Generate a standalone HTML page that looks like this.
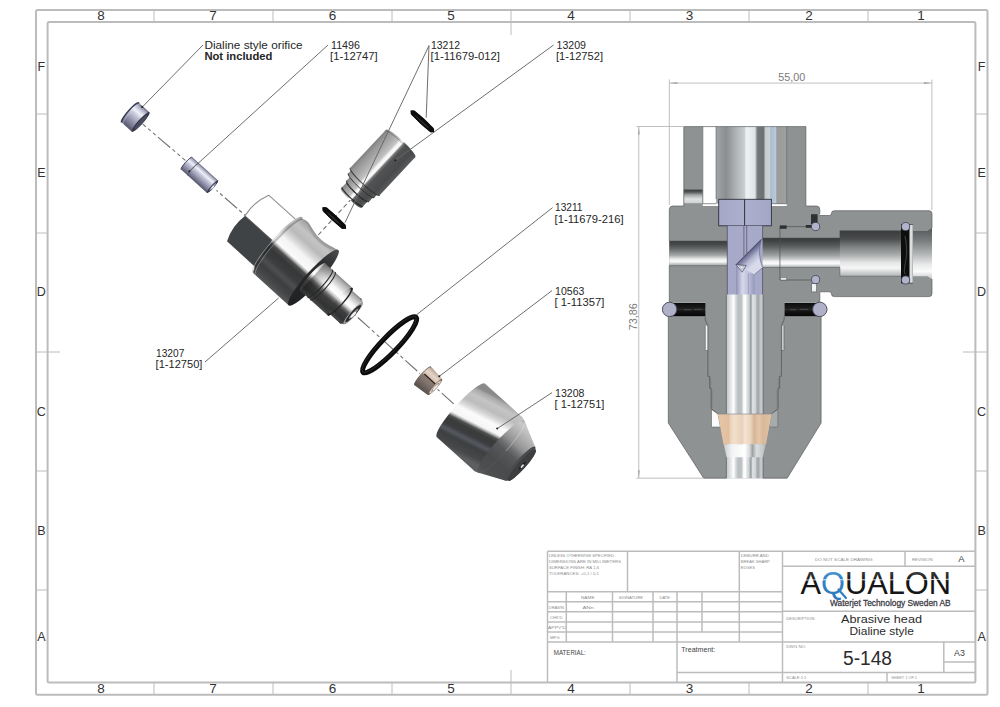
<!DOCTYPE html>
<html><head><meta charset="utf-8"><title>Abrasive head Dialine style 5-148</title>
<style>
html,body{margin:0;padding:0;background:#fff;}
body{width:1000px;height:707px;overflow:hidden;font-family:"Liberation Sans",sans-serif;}
svg{display:block;font-family:"Liberation Sans",sans-serif;}
</style></head><body>
<svg width="1000" height="707" viewBox="0 0 1000 707">
<defs>
<linearGradient id="gLogo" x1="0" y1="0" x2="0" y2="1" gradientUnits="objectBoundingBox"><stop offset="0" stop-color="#5a5a5a"/><stop offset="0.3" stop-color="#2a2a2a"/><stop offset="0.45" stop-color="#161616"/><stop offset="1" stop-color="#161616"/></linearGradient>
<linearGradient id="gLogoQ" x1="0" y1="0" x2="0" y2="1" gradientUnits="objectBoundingBox"><stop offset="0" stop-color="#6aa9dc"/><stop offset="0.35" stop-color="#3586c8"/><stop offset="1" stop-color="#2a78bc"/></linearGradient>
<linearGradient id="gTopBore" x1="0" y1="0" x2="1" y2="0" gradientUnits="objectBoundingBox"><stop offset="0" stop-color="#a2a6a8"/><stop offset="0.14" stop-color="#8a8e90"/><stop offset="0.3" stop-color="#b4b8ba"/><stop offset="0.4" stop-color="#c9cdcf"/><stop offset="0.425" stop-color="#eef2f3"/><stop offset="0.55" stop-color="#dfe5e7"/><stop offset="0.585" stop-color="#74797b"/><stop offset="0.67" stop-color="#6a6f71"/><stop offset="0.7" stop-color="#c6cacc"/><stop offset="0.755" stop-color="#cfd3d5"/><stop offset="0.775" stop-color="#a9bdd2"/><stop offset="0.845" stop-color="#b9cbdc"/><stop offset="0.86" stop-color="#9a9a98"/><stop offset="1" stop-color="#a0a09e"/></linearGradient>
<linearGradient id="gHB" x1="0" y1="0" x2="0" y2="1" gradientUnits="objectBoundingBox"><stop offset="0" stop-color="#3c3e3f"/><stop offset="0.14" stop-color="#47494a"/><stop offset="0.3" stop-color="#636667"/><stop offset="0.45" stop-color="#858889"/><stop offset="0.58" stop-color="#a5a8a9"/><stop offset="0.68" stop-color="#d2d4d4"/><stop offset="0.76" stop-color="#f3f3f3"/><stop offset="0.85" stop-color="#f7f7f7"/><stop offset="0.92" stop-color="#c6c8c9"/><stop offset="1" stop-color="#a6a9aa"/></linearGradient>
<linearGradient id="gHB2" x1="0" y1="0" x2="0" y2="1" gradientUnits="objectBoundingBox"><stop offset="0" stop-color="#38393a"/><stop offset="0.12" stop-color="#434546"/><stop offset="0.3" stop-color="#5e6162"/><stop offset="0.45" stop-color="#7f8384"/><stop offset="0.6" stop-color="#a0a3a4"/><stop offset="0.72" stop-color="#c9cbcc"/><stop offset="0.8" stop-color="#f2f2f2"/><stop offset="0.88" stop-color="#fbfbfb"/><stop offset="0.94" stop-color="#d0d2d3"/><stop offset="1" stop-color="#b0b3b4"/></linearGradient>
<linearGradient id="gTube" x1="0" y1="0" x2="1" y2="0" gradientUnits="objectBoundingBox"><stop offset="0" stop-color="#6f7679"/><stop offset="0.03" stop-color="#c9cdd0"/><stop offset="0.12" stop-color="#e4e7e8"/><stop offset="0.2" stop-color="#ffffff"/><stop offset="0.26" stop-color="#d5d9db"/><stop offset="0.33" stop-color="#b9bec1"/><stop offset="0.42" stop-color="#bfc4c6"/><stop offset="0.46" stop-color="#f4f6f6"/><stop offset="0.52" stop-color="#ffffff"/><stop offset="0.56" stop-color="#dfe2e3"/><stop offset="0.62" stop-color="#cfd3d5"/><stop offset="0.65" stop-color="#9aa0a3"/><stop offset="0.68" stop-color="#a5abad"/><stop offset="0.71" stop-color="#dcdfe0"/><stop offset="0.79" stop-color="#d5d8da"/><stop offset="0.83" stop-color="#a9adb0"/><stop offset="0.88" stop-color="#a5a9ab"/><stop offset="0.92" stop-color="#c3c6c8"/><stop offset="0.97" stop-color="#c9ccce"/><stop offset="1" stop-color="#7d8386"/></linearGradient>
<linearGradient id="gGroove" x1="0" y1="0" x2="0" y2="1" gradientUnits="objectBoundingBox"><stop offset="0" stop-color="#343637"/><stop offset="0.18" stop-color="#55585a"/><stop offset="0.4" stop-color="#a5a8a9"/><stop offset="0.7" stop-color="#e0e2e2"/><stop offset="1" stop-color="#cfd1d2"/></linearGradient>
<linearGradient id="gPurple" x1="0" y1="0" x2="1" y2="0" gradientUnits="objectBoundingBox"><stop offset="0" stop-color="#a4a7c6"/><stop offset="0.5" stop-color="#aeb1cd"/><stop offset="1" stop-color="#a2a5c4"/></linearGradient>
<linearGradient id="gPurpleCh" x1="0" y1="0" x2="1" y2="0" gradientUnits="objectBoundingBox"><stop offset="0" stop-color="#8d90b4"/><stop offset="0.35" stop-color="#d6d8ea"/><stop offset="0.7" stop-color="#b9bcd6"/><stop offset="1" stop-color="#9598ba"/></linearGradient>
<linearGradient id="gBlackBand" x1="0" y1="0" x2="0" y2="1" gradientUnits="objectBoundingBox"><stop offset="0" stop-color="#0b0b0b"/><stop offset="0.4" stop-color="#1d1d1d"/><stop offset="0.5" stop-color="#2a2a2a"/><stop offset="0.6" stop-color="#151515"/><stop offset="1" stop-color="#050505"/></linearGradient>
<linearGradient id="gPeach" x1="0" y1="0" x2="1" y2="0" gradientUnits="objectBoundingBox"><stop offset="0" stop-color="#e6c6a8"/><stop offset="0.2" stop-color="#e2bf9f"/><stop offset="0.24" stop-color="#ecd3bb"/><stop offset="0.3" stop-color="#f1dfcd"/><stop offset="0.45" stop-color="#e9d0b9"/><stop offset="0.5" stop-color="#f3e3d3"/><stop offset="0.6" stop-color="#ecd6c1"/><stop offset="0.68" stop-color="#d6b597"/><stop offset="0.76" stop-color="#e6c7aa"/><stop offset="0.84" stop-color="#d9b999"/><stop offset="1" stop-color="#e4c3a5"/></linearGradient>
<linearGradient id="gCone" x1="0" y1="0" x2="1" y2="0" gradientUnits="objectBoundingBox"><stop offset="0" stop-color="#c9cccd"/><stop offset="0.2" stop-color="#f2f3f3"/><stop offset="0.5" stop-color="#ffffff"/><stop offset="0.62" stop-color="#d5d8d9"/><stop offset="0.68" stop-color="#9ea2a4"/><stop offset="0.78" stop-color="#dcdfe0"/><stop offset="1" stop-color="#b9bcbd"/></linearGradient>
<linearGradient id="gRB" x1="0" y1="0" x2="0" y2="1" gradientUnits="objectBoundingBox"><stop offset="0" stop-color="#3a3b3c"/><stop offset="0.18" stop-color="#4a4c4d"/><stop offset="0.34" stop-color="#7b7e7f"/><stop offset="0.52" stop-color="#a6a9aa"/><stop offset="0.7" stop-color="#e4e5e5"/><stop offset="0.82" stop-color="#f6f6f6"/><stop offset="0.92" stop-color="#cfd1d1"/><stop offset="1" stop-color="#b3b5b6"/></linearGradient>
<linearGradient id="gRBend" x1="0" y1="0" x2="0" y2="1" gradientUnits="objectBoundingBox"><stop offset="0" stop-color="#55585a"/><stop offset="0.25" stop-color="#7a7d7e"/><stop offset="0.5" stop-color="#b0b3b4"/><stop offset="0.72" stop-color="#e9eaea"/><stop offset="0.85" stop-color="#fbfbfb"/><stop offset="1" stop-color="#c6c8c9"/></linearGradient>
<linearGradient id="gDiag" x1="747" y1="251" x2="757" y2="262" gradientUnits="userSpaceOnUse"><stop offset="0" stop-color="#4c4f74"/><stop offset="0.3" stop-color="#7c7fa3"/><stop offset="0.6" stop-color="#b4b7d2"/><stop offset="1" stop-color="#d8daea"/></linearGradient>
<linearGradient id="gSteel" x1="0" y1="0" x2="0" y2="1" gradientUnits="objectBoundingBox"><stop offset="0" stop-color="#8a8a8a"/><stop offset="0.04" stop-color="#aaaaaa"/><stop offset="0.12" stop-color="#c4c4c4"/><stop offset="0.22" stop-color="#bcbcbc"/><stop offset="0.3" stop-color="#d8d8d8"/><stop offset="0.37" stop-color="#fbfbfb"/><stop offset="0.48" stop-color="#f6f6f6"/><stop offset="0.51" stop-color="#b0b0b0"/><stop offset="0.54" stop-color="#505050"/><stop offset="0.585" stop-color="#3a3b3c"/><stop offset="0.67" stop-color="#3b3c3d"/><stop offset="0.735" stop-color="#565960"/><stop offset="0.8" stop-color="#3d3f40"/><stop offset="0.93" stop-color="#464849"/><stop offset="1" stop-color="#5c5e5f"/></linearGradient>
<linearGradient id="gSteelNut" x1="120" y1="-36" x2="138.3" y2="31.1" gradientUnits="userSpaceOnUse"><stop offset="0" stop-color="#8a8a8a"/><stop offset="0.04" stop-color="#aaaaaa"/><stop offset="0.12" stop-color="#c4c4c4"/><stop offset="0.22" stop-color="#bcbcbc"/><stop offset="0.3" stop-color="#d8d8d8"/><stop offset="0.37" stop-color="#fbfbfb"/><stop offset="0.48" stop-color="#f6f6f6"/><stop offset="0.51" stop-color="#b0b0b0"/><stop offset="0.54" stop-color="#505050"/><stop offset="0.585" stop-color="#3a3b3c"/><stop offset="0.67" stop-color="#3b3c3d"/><stop offset="0.735" stop-color="#565960"/><stop offset="0.8" stop-color="#3d3f40"/><stop offset="0.93" stop-color="#464849"/><stop offset="1" stop-color="#5c5e5f"/></linearGradient>
<linearGradient id="gSteelB" x1="0" y1="0" x2="0" y2="1" gradientUnits="objectBoundingBox"><stop offset="0" stop-color="#8a8a8a"/><stop offset="0.04" stop-color="#a8a8a8"/><stop offset="0.12" stop-color="#c4c4c4"/><stop offset="0.22" stop-color="#b9b9b9"/><stop offset="0.3" stop-color="#d6d6d6"/><stop offset="0.37" stop-color="#f4f4f4"/><stop offset="0.48" stop-color="#fafafa"/><stop offset="0.51" stop-color="#b0b0b0"/><stop offset="0.54" stop-color="#4c4c4c"/><stop offset="0.6" stop-color="#363738"/><stop offset="0.7" stop-color="#3c3d3e"/><stop offset="0.77" stop-color="#4c4e51"/><stop offset="0.84" stop-color="#3c3e3f"/><stop offset="0.93" stop-color="#464849"/><stop offset="1" stop-color="#58595a"/></linearGradient>
<linearGradient id="gSteel2" x1="0" y1="0" x2="0" y2="1" gradientUnits="objectBoundingBox"><stop offset="0" stop-color="#858585"/><stop offset="0.07" stop-color="#adadad"/><stop offset="0.2" stop-color="#d6d6d6"/><stop offset="0.3" stop-color="#f6f6f6"/><stop offset="0.42" stop-color="#ffffff"/><stop offset="0.5" stop-color="#c4c4c4"/><stop offset="0.57" stop-color="#6e6e6e"/><stop offset="0.66" stop-color="#3e3e3e"/><stop offset="0.86" stop-color="#323334"/><stop offset="1" stop-color="#4a4a4a"/></linearGradient>
<linearGradient id="gCone1" x1="0" y1="0" x2="0" y2="1" gradientUnits="objectBoundingBox"><stop offset="0" stop-color="#a2a2a2"/><stop offset="0.05" stop-color="#cacaca"/><stop offset="0.12" stop-color="#bebebe"/><stop offset="0.24" stop-color="#a8a8a8"/><stop offset="0.34" stop-color="#929292"/><stop offset="0.42" stop-color="#707172"/><stop offset="0.5" stop-color="#58595a"/><stop offset="0.7" stop-color="#4a4b4c"/><stop offset="0.9" stop-color="#4d4e4f"/><stop offset="1" stop-color="#5a5b5c"/></linearGradient>
<linearGradient id="gLav" x1="0" y1="0" x2="0" y2="1" gradientUnits="objectBoundingBox"><stop offset="0" stop-color="#5a5b70"/><stop offset="0.07" stop-color="#9c9eb6"/><stop offset="0.2" stop-color="#d4d5e4"/><stop offset="0.3" stop-color="#f0f0f8"/><stop offset="0.42" stop-color="#cacbdd"/><stop offset="0.6" stop-color="#a6a7be"/><stop offset="0.8" stop-color="#7e7f98"/><stop offset="1" stop-color="#55566a"/></linearGradient>
<linearGradient id="gBrass" x1="0" y1="0" x2="0" y2="1" gradientUnits="objectBoundingBox"><stop offset="0" stop-color="#a08d80"/><stop offset="0.08" stop-color="#cdb9aa"/><stop offset="0.22" stop-color="#e6d4c7"/><stop offset="0.36" stop-color="#d6c0b0"/><stop offset="0.41" stop-color="#bfa998"/><stop offset="0.44" stop-color="#8a7c74"/><stop offset="0.6" stop-color="#81746d"/><stop offset="0.8" stop-color="#6a605b"/><stop offset="1" stop-color="#554d49"/></linearGradient>
<linearGradient id="gFaceDark" x1="0" y1="0" x2="0" y2="1" gradientUnits="objectBoundingBox"><stop offset="0" stop-color="#4a4c4e"/><stop offset="0.3" stop-color="#2a2b2c"/><stop offset="1" stop-color="#202122"/></linearGradient>
<linearGradient id="g09" x1="0" y1="0" x2="0" y2="1" gradientUnits="objectBoundingBox"><stop offset="0" stop-color="#808080"/><stop offset="0.1" stop-color="#969696"/><stop offset="0.28" stop-color="#aeaeae"/><stop offset="0.4" stop-color="#c2c2c2"/><stop offset="0.455" stop-color="#f4f4f4"/><stop offset="0.52" stop-color="#fbfbfb"/><stop offset="0.56" stop-color="#7a7a7a"/><stop offset="0.62" stop-color="#525354"/><stop offset="0.85" stop-color="#484a4b"/><stop offset="1" stop-color="#5a5b5c"/></linearGradient>
<linearGradient id="gShade" x1="0" y1="0" x2="0" y2="1" gradientUnits="objectBoundingBox"><stop offset="0" stop-color="#000000"/><stop offset="1" stop-color="#000000"/></linearGradient>
<linearGradient id="gShadow" x1="0" y1="0" x2="1" y2="0"><stop offset="0" stop-color="#000" stop-opacity="0.3"/><stop offset="0.6" stop-color="#000" stop-opacity="0.12"/><stop offset="1" stop-color="#000" stop-opacity="0"/></linearGradient>
</defs>
<rect width="1000" height="707" fill="#fff"/>
<g fill="none" stroke="#bcbcbc" stroke-width="2">
<rect x="36" y="10" width="951.5" height="684.7" rx="1.5"/>
<rect x="47.6" y="22" width="927.8" height="660.4" rx="1.5"/>
</g>
<g stroke="#bcbcbc" stroke-width="1">
<line x1="154" y1="10" x2="154" y2="22"/>
<line x1="154" y1="682.4" x2="154" y2="694.7"/>
<line x1="273" y1="10" x2="273" y2="22"/>
<line x1="273" y1="682.4" x2="273" y2="694.7"/>
<line x1="392" y1="10" x2="392" y2="22"/>
<line x1="392" y1="682.4" x2="392" y2="694.7"/>
<line x1="630" y1="10" x2="630" y2="22"/>
<line x1="630" y1="682.4" x2="630" y2="694.7"/>
<line x1="749" y1="10" x2="749" y2="22"/>
<line x1="749" y1="682.4" x2="749" y2="694.7"/>
<line x1="868" y1="10" x2="868" y2="22"/>
<line x1="868" y1="682.4" x2="868" y2="694.7"/>
<line x1="511" y1="10" x2="511" y2="35"/>
<line x1="511" y1="670" x2="511" y2="694.7"/>
<line x1="36" y1="114" x2="47.6" y2="114"/>
<line x1="975.4" y1="114" x2="987.5" y2="114"/>
<line x1="36" y1="233" x2="47.6" y2="233"/>
<line x1="975.4" y1="233" x2="987.5" y2="233"/>
<line x1="36" y1="471" x2="47.6" y2="471"/>
<line x1="975.4" y1="471" x2="987.5" y2="471"/>
<line x1="36" y1="590" x2="47.6" y2="590"/>
<line x1="975.4" y1="590" x2="987.5" y2="590"/>
<line x1="36" y1="352" x2="60" y2="352"/>
<line x1="963" y1="352" x2="987.5" y2="352"/>
</g>
<g font-size="13.5" fill="#333" text-anchor="middle">
<text x="101" y="19.9">8</text>
<text x="101" y="692.9">8</text>
<text x="213" y="19.9">7</text>
<text x="213" y="692.9">7</text>
<text x="332.5" y="19.9">6</text>
<text x="332.5" y="692.9">6</text>
<text x="451" y="19.9">5</text>
<text x="451" y="692.9">5</text>
<text x="571" y="19.9">4</text>
<text x="571" y="692.9">4</text>
<text x="689.5" y="19.9">3</text>
<text x="689.5" y="692.9">3</text>
<text x="809" y="19.9">2</text>
<text x="809" y="692.9">2</text>
<text x="921" y="19.9">1</text>
<text x="921" y="692.9">1</text>
<text x="41.3" y="70.8" font-size="12.5">F</text>
<text x="981.6" y="70.8" font-size="12.5">F</text>
<text x="41.3" y="176.8" font-size="12.5">E</text>
<text x="981.6" y="176.8" font-size="12.5">E</text>
<text x="41.3" y="295.8" font-size="12.5">D</text>
<text x="981.6" y="295.8" font-size="12.5">D</text>
<text x="41.3" y="415.8" font-size="12.5">C</text>
<text x="981.6" y="415.8" font-size="12.5">C</text>
<text x="41.3" y="534.8" font-size="12.5">B</text>
<text x="981.6" y="534.8" font-size="12.5">B</text>
<text x="41.3" y="640.8" font-size="12.5">A</text>
<text x="981.6" y="640.8" font-size="12.5">A</text>
</g>
<g stroke="#bcbcbc" stroke-width="1.5" fill="none">
<line x1="547.5" y1="551.3" x2="975.4" y2="551.3"/>
<line x1="547.5" y1="551.3" x2="547.5" y2="682.4"/>
<line x1="547.5" y1="591.8" x2="782.5" y2="591.8"/>
<line x1="547.5" y1="601.8" x2="782.5" y2="601.8"/>
<line x1="547.5" y1="611.8" x2="782.5" y2="611.8"/>
<line x1="547.5" y1="622" x2="782.5" y2="622"/>
<line x1="547.5" y1="632" x2="782.5" y2="632"/>
<line x1="547.5" y1="642" x2="975.4" y2="642"/>
<line x1="677" y1="672.5" x2="975.4" y2="672.5"/>
<line x1="566.3" y1="591.8" x2="566.3" y2="642"/>
<line x1="612.5" y1="591.8" x2="612.5" y2="642"/>
<line x1="627.5" y1="551.3" x2="627.5" y2="591.8"/>
<line x1="653" y1="591.8" x2="653" y2="642"/>
<line x1="677" y1="591.8" x2="677" y2="682.4"/>
<line x1="702" y1="591.8" x2="702" y2="632"/>
<line x1="739.3" y1="551.3" x2="739.3" y2="642"/>
<line x1="782.5" y1="551.3" x2="782.5" y2="682.4"/>
<line x1="782.5" y1="566.3" x2="975.4" y2="566.3"/>
<line x1="782.5" y1="611.3" x2="975.4" y2="611.3"/>
<line x1="943.8" y1="662" x2="975.4" y2="662"/>
<line x1="905" y1="551.3" x2="905" y2="566.3"/>
<line x1="943.8" y1="642" x2="943.8" y2="672.5"/>
<line x1="887" y1="672.5" x2="887" y2="682.4"/>
</g>
<g font-size="4.4" fill="#8c8c8c">
<text x="549" y="557.3" textLength="66" lengthAdjust="spacingAndGlyphs">UNLESS OTHERWISE SPECIFIED:</text>
<text x="549" y="563.3" textLength="72" lengthAdjust="spacingAndGlyphs">DIMENSIONS ARE IN MILLIMETERS</text>
<text x="549" y="569.3" textLength="50" lengthAdjust="spacingAndGlyphs">SURFACE FINISH: RA 1,6</text>
<text x="549" y="575.3" textLength="50" lengthAdjust="spacingAndGlyphs">TOLERANCES: +0,1 / 0,1</text>
<text x="740.8" y="557.3" textLength="28" lengthAdjust="spacingAndGlyphs">DEBURR AND</text>
<text x="740.8" y="563.3" textLength="29" lengthAdjust="spacingAndGlyphs">BREAK SHARP</text>
<text x="740.8" y="569.3" textLength="14" lengthAdjust="spacingAndGlyphs">EDGES</text>
<text x="581" y="599.2" textLength="13.5" lengthAdjust="spacingAndGlyphs">NAME</text>
<text x="618.8" y="599.2" textLength="24.2" lengthAdjust="spacingAndGlyphs">SIGNATURE</text>
<text x="659.5" y="599.2" textLength="10.5" lengthAdjust="spacingAndGlyphs">DATE</text>
<text x="548.8" y="609.1" textLength="15" lengthAdjust="spacingAndGlyphs">DRAWN</text>
<text x="582.5" y="609.1" textLength="11.3" lengthAdjust="spacingAndGlyphs">ANn</text>
<text x="550" y="619.2" textLength="12.5" lengthAdjust="spacingAndGlyphs">CHK'D</text>
<text x="548" y="629.3" textLength="17.8" lengthAdjust="spacingAndGlyphs">APPV'D</text>
<text x="550" y="639.4" textLength="9.5" lengthAdjust="spacingAndGlyphs">MFG</text>
<text x="815" y="561" textLength="57.5" lengthAdjust="spacingAndGlyphs">DO NOT SCALE DRAWING</text>
<text x="912" y="561" textLength="20.5" lengthAdjust="spacingAndGlyphs">REVISION</text>
<text x="786.3" y="619.6" textLength="29" lengthAdjust="spacingAndGlyphs">DESCRIPTION:</text>
<text x="786.3" y="648.4" textLength="20" lengthAdjust="spacingAndGlyphs">DWG NO.</text>
<text x="786.3" y="679.2" textLength="20" lengthAdjust="spacingAndGlyphs">SCALE:1:1</text>
<text x="891.3" y="679.2" textLength="25.7" lengthAdjust="spacingAndGlyphs">SHEET 1 OF 1</text>
</g>
<g fill="#444">
<text x="553.8" y="654.6" font-size="7.3" textLength="32" lengthAdjust="spacingAndGlyphs">MATERIAL:</text>
<text x="681.3" y="652.4" font-size="7.3" textLength="34" lengthAdjust="spacingAndGlyphs">Treatment:</text>
<text x="961.3" y="562.4" font-size="9.5" text-anchor="middle">A</text>
<text x="959.5" y="655.6" font-size="8.8" text-anchor="middle">A3</text>
</g>
<g fill="#2b2b2b">
<text x="841" y="623.3" font-size="10.9" textLength="81" lengthAdjust="spacingAndGlyphs">Abrasive head</text>
<text x="849.5" y="634.9" font-size="10.9" textLength="64.3" lengthAdjust="spacingAndGlyphs">Dialine style</text>
<text x="843" y="665" font-size="20" textLength="49" lengthAdjust="spacingAndGlyphs">5-148</text>
</g>
<text x="800.6" y="593.9" font-size="31.7" textLength="150.4" lengthAdjust="spacingAndGlyphs" fill="url(#gLogo)">A<tspan fill="url(#gLogoQ)">Q</tspan>UALON</text>
<path d="M838.5 589.5L846 598" stroke="#2f7fc2" stroke-width="2.2" stroke-linecap="round"/>
<path d="M800 580.3C830 579 870 580.6 952 579.2" stroke="#ffffff" stroke-width="0.9" fill="none" opacity="0.9"/>
<text x="830" y="605.5" font-size="8.5" font-weight="400" fill="#3c3c46" stroke="#3c3c46" stroke-width="0.28" textLength="120.7" lengthAdjust="spacingAndGlyphs">Waterjet Technology Sweden AB</text>
<g id="section">
<g stroke="#b9b9b9" stroke-width="0.9" fill="none">
<line x1="669.3" y1="79.5" x2="669.3" y2="205"/>
<line x1="931.9" y1="79.5" x2="931.9" y2="210"/>
<line x1="669.3" y1="83.1" x2="931.9" y2="83.1"/>
<line x1="638.8" y1="126.5" x2="638.8" y2="478.2"/>
<line x1="636.5" y1="126.5" x2="683" y2="126.5"/>
<line x1="636.5" y1="478.2" x2="703" y2="478.2"/>
</g>
<g fill="#a8a8a8"><path d="M669.3 83.1l8-1v2z"/><path d="M931.9 83.1l-8-1v2z"/><path d="M638.8 126.5l-1 8h2z"/><path d="M638.8 478.2l-1-8h2z"/></g>
<text x="778.3" y="81" font-size="11.2" fill="#7b7b7b" textLength="27" lengthAdjust="spacingAndGlyphs">55,00</text>
<text transform="translate(637,330.3) rotate(-90)" font-size="11.2" fill="#7b7b7b" textLength="27" lengthAdjust="spacingAndGlyphs">73,86</text>
<path d="M668.3 316.4V423L703.7 478.2H787.2L821.1 423V316.4Z" fill="#8e9293"/>
<rect x="683.8" y="126.5" width="19" height="80" fill="#8e9293"/>
<rect x="786.7" y="126.5" width="19.2" height="80" fill="#8e9293"/>
<path d="M669.3 209.5Q669.3 206 672.8 206H816.4Q819.8 206 819.8 209.5V302.6H669.3Z" fill="#8e9293"/>
<rect x="705.7" y="300" width="78.7" height="20" fill="#8e9293"/>
<rect x="683.8" y="189.6" width="19" height="13.6" fill="url(#gGroove)"/>
<rect x="702.8" y="126.5" width="13.4" height="77.2" fill="#fff"/>
<rect x="716.1" y="126.5" width="70.6" height="77.2" fill="url(#gTopBore)"/>
<path d="M817.8 215.5H829.5Q831.4 215.5 831.4 213.6Q831.4 210.7 834.4 210.7H929Q932 210.7 932 213.7V293.6Q932 296.6 929 296.6H834.4Q831.4 296.6 831.4 293.7Q831.4 291.8 829.5 291.8H817.8Z" fill="#8e9293"/>
<rect x="669.3" y="241" width="58.7" height="24.7" fill="url(#gHB)"/>
<rect x="762" y="238" width="78" height="29.4" fill="url(#gHB2)"/>
<rect x="839.9" y="230.7" width="61.2" height="45.5" fill="url(#gRB)"/>
<path d="M912.8 231H927.3L932 228V279L927.3 276.2H912.8Z" fill="url(#gRBend)"/>
<path d="M839.9 238V230.7H901M839.9 267.4V276.2H901M762.6 238H839.9M762.6 267.4H839.9M669.3 241H727.3M669.3 265.7H727.3" fill="none" stroke="#4c5052" stroke-width="0.5"/>
<line x1="683.8" y1="126.6" x2="805.9" y2="126.6" stroke="#6d7173" stroke-width="0.8"/>
<path d="M812 226.6H779.9V280H812" fill="none" stroke="#4c5052" stroke-width="0.7"/>
<rect x="779.9" y="225.4" width="6.8" height="3.4" fill="#2d2f30"/>
<rect x="805.8" y="225" width="6.4" height="2.8" fill="#2d2f30"/>
<rect x="780.5" y="277.6" width="6" height="2.4" fill="#e9eaea" stroke="#55595b" stroke-width="0.4"/>
<rect x="811" y="214.2" width="6.6" height="9.8" fill="#2f3132"/>
<rect x="811.7" y="283.4" width="5" height="8.5" fill="#f3f3f3" stroke="#55595b" stroke-width="0.6"/>
<circle cx="815.6" cy="226.5" r="4.1" fill="#b1b4cb" stroke="#3d4050" stroke-width="0.8"/>
<circle cx="815.6" cy="279.6" r="4.1" fill="#b1b4cb" stroke="#3d4050" stroke-width="0.8"/>
<rect x="901" y="224" width="11.8" height="59.3" fill="#0d0d0d"/>
<rect x="909.5" y="224.6" width="3.3" height="58.2" fill="#dcdedf"/>
<path d="M905 236Q908 250 905.5 262T906 274" stroke="#3a3a3a" stroke-width="1.2" fill="none"/>
<circle cx="905.6" cy="226.6" r="4.1" fill="#b1b4cb" stroke="#3d4050" stroke-width="0.8"/>
<circle cx="905.6" cy="280" r="4.1" fill="#b1b4cb" stroke="#3d4050" stroke-width="0.8"/>
<g fill="none" stroke="#53575a" stroke-width="0.65">
<path d="M683.8 206V126.5M805.9 126.5V206H816.4Q819.8 206 819.8 209.5V214M683.8 206H672.8Q669.3 206 669.3 209.5V241M669.3 265.7V302"/>
<path d="M702.8 126.5V203.7H716.1M786.7 126.5V203.7H771.4M716.1 126.5V199.3"/>
<path d="M668.3 316.6V423L703.7 478.2H726.3M763.1 478.2H787.2L821.1 423V316.6M819.8 292V302"/>
<path d="M819.6 215.5H829.5Q831.4 215.5 831.4 213.6Q831.4 210.7 834.4 210.7H929Q932 210.7 932 213.7V228M932 279V293.6Q932 296.6 929 296.6H834.4Q831.4 296.6 831.4 293.7Q831.4 291.8 829.5 291.8H819.8"/>
<path d="M726.3 295.2V478.2M763.1 295.2V478.2"/>
</g>
<rect x="718.7" y="199.3" width="52.7" height="26.5" fill="url(#gPurple)" stroke="#2f3140" stroke-width="0.9"/>
<line x1="744.6" y1="199.3" x2="744.6" y2="225.8" stroke="#2f3140" stroke-width="1"/>
<rect x="727.3" y="225.8" width="35.3" height="69.4" fill="#a6a9c7"/>
<path d="M727.3 225.8V295.2M762.6 225.8V239.5M762.6 267.6V295.2" stroke="#4f526c" stroke-width="0.8" fill="none"/>
<path d="M743.9 225.8V256.5M746.7 225.8V253.6" stroke="#3f425a" stroke-width="0.6" fill="none"/>
<rect x="736" y="266" width="18.6" height="29.2" fill="url(#gPurpleCh)"/>
<path d="M748.4 274V295.2" stroke="#8487a8" stroke-width="0.5"/>
<path d="M761.4 239.3L736 264.7L754.6 274.4L762.6 267.6Q757 254 761.4 239.3Z" fill="url(#gDiag)"/>
<path d="M761.4 239.3L736 264.7" stroke="#33364e" stroke-width="0.8"/>
<path d="M761.4 239.3Q757 254 762.6 267.6L754.6 274.4" stroke="#5d6080" stroke-width="0.6" fill="none"/>
<path d="M736 264.7L746.2 265.4L742.2 272.2Z" fill="#d9dbea" stroke="#33364e" stroke-width="0.6"/>
<path d="M739.5 266L744 266.3L742 269.6Z" fill="#f4f4fa" stroke="#50536e" stroke-width="0.3"/>
<rect x="726.3" y="294.5" width="36.8" height="183.7" fill="url(#gTube)"/>
<rect x="670.5" y="302.8" width="35.1" height="13.6" fill="url(#gBlackBand)"/>
<rect x="784.4" y="302.8" width="34.6" height="13.6" fill="url(#gBlackBand)"/>
<path d="M684 309.6h7M694 309.4h8M790 309.6h6M800 309.4h8" stroke="#4a4a4a" stroke-width="1.4" opacity="0.8"/>
<circle cx="669.6" cy="309.4" r="7.2" fill="#aeb1c8" stroke="#3f4252" stroke-width="0.9"/>
<circle cx="819.8" cy="309.4" r="7.2" fill="#aeb1c8" stroke="#3f4252" stroke-width="0.9"/>
<rect x="705.3" y="325.7" width="2.5" height="24.8" fill="#f6f6f6"/>
<rect x="781.6" y="325.7" width="2.4" height="24.8" fill="#c9cccd"/>
<path d="M705.1 316.5L705.3 320L707.9 325.7V376.3H709.7V388.2H711.2V408.5L718 414" fill="none" stroke="#4c5052" stroke-width="0.7"/>
<path d="M784.2 316.5L784 320L781.4 325.7V376.3H779.6V388.2H778.1V408.5L771.3 414" fill="none" stroke="#4c5052" stroke-width="0.7"/>
<path d="M705.3 325.7V350.5H707.9M784 325.7V350.5H781.4" fill="none" stroke="#4c5052" stroke-width="0.5"/>
<path d="M710.6 378V388M712.2 390V407M778.7 378V388M777.1 390V407" fill="none" stroke="#6a6e70" stroke-width="0.4"/>
<path d="M711.5 409.5L718 414L720.4 427H711.5Z" fill="#fbfbfb" stroke="#4c5052" stroke-width="0.5"/>
<path d="M771.3 414L777.8 409.5V427H768.9Z" fill="#a7abac" stroke="#4c5052" stroke-width="0.4"/>
<path d="M717.8 414H771.6L766 444.3H723.5Z" fill="url(#gPeach)"/>
<path d="M717.8 414H771.6" stroke="#7f8486" stroke-width="0.6"/>
<path d="M723.5 444.3H766L763.1 457.2H726.3Z" fill="url(#gCone)"/>
<path d="M723.5 444.3L726.3 457.2M766 444.3L763.1 457.2" stroke="#8c9092" stroke-width="0.6"/>
</g>
<g id="exploded">
<g stroke="#727272" stroke-width="1.1" fill="none">
<path d="M142.8 124.2L185.3 160.4" stroke-dasharray="16 3 3.5 3 3.5 3" stroke-dashoffset="12.09"/>
<path d="M216.5 190.4L245.4 215.6" stroke-dasharray="16 3 3.5 3 3.5 3" stroke-dashoffset="20.83"/>
<path d="M355 315L420 373.5" stroke-dasharray="16 3 3.5 3 3.5 3" stroke-dashoffset="28.28"/>
<path d="M437.5 389.3L458 407.7" stroke-dasharray="16 3 3.5 3 3.5 3" stroke-dashoffset="26.23"/>
<path d="M318.3 235L350.5 199.8" stroke-dasharray="4.5 3"/>
</g>
<g transform="translate(390,346.5) rotate(42)">
<path d="M-349.5 -13.1L-335.6 -13.1A2.49 13.1 0 0 1 -335.6 13.1L-349.5 13.1A2.49 13.1 0 0 1 -349.5 -13.1Z" fill="url(#gLav)"/>
<path d="M-349.5 -13.1A2.49 13.1 0 0 0 -349.5 13.1" fill="none" stroke="#34354a" stroke-width="1.3"/>
<path d="M-347.2 -13.1A2.49 13.1 0 0 0 -347.2 13.1" fill="none" stroke="#e6e7f2" stroke-width="0.5" opacity="0.7"/>
<ellipse cx="-335.6" cy="0" rx="2.49" ry="13.1" fill="#353648"/>
<ellipse cx="-335.2" cy="0" rx="1.80" ry="9.5" fill="#4b4c60"/>
</g>
<g transform="translate(390,346.5) rotate(42)">
<path d="M-273.6 -8.3L-238.8 -8.3A1.58 8.3 0 0 1 -238.8 8.3L-273.6 8.3A1.58 8.3 0 0 1 -273.6 -8.3Z" fill="url(#gLav)"/>
<path d="M-273.6 -8.3A1.58 8.3 0 0 0 -273.6 8.3" fill="none" stroke="#3c3d52" stroke-width="0.9"/>
<path d="M-264.5 -8.3A1.58 8.3 0 0 0 -264.5 8.3" fill="none" stroke="#55566e" stroke-width="0.8"/>
<ellipse cx="-238.8" cy="0" rx="1.58" ry="8.3" fill="#34354a"/>
<ellipse cx="-238.6" cy="0" rx="0.95" ry="5" fill="#8f91aa"/>
<ellipse cx="-238.3" cy="0.3" rx="0.8" ry="2.2" fill="#ececf4"/>
</g>
<g transform="translate(390,346.5) rotate(42)">
<path d="M-195.2 0Q-198.2 -16 -191.4 -31.3L-150 -31.3L-150 0Z" fill="#ffffff" stroke="#909090" stroke-width="1.1" stroke-linejoin="round"/>
<path d="M-195.2 0Q-198.4 16 -191.6 30.8L-150 31.2L-150 0Z" fill="#3f4345"/>
<path d="M-195.2 0H-157" stroke="#5a5d5f" stroke-width="0.5"/>
<path d="M-151 -36.4Q-148 -37.8 -144 -37.6C-136 -35.5 -130 -33.2 -122.5 -33.2C-115 -33.2 -110 -35.6 -103 -36.6A7.03 37 0 0 1 -103 37.2L-149.5 37Q-152 37 -152.6 33A7.03 35 0 0 1 -151 -37Z" fill="url(#gSteelB)"/>
<path d="M-151 -37A7.03 37 0 0 0 -151 37" fill="none" stroke="#b9bbbc" stroke-width="0.7" opacity="0.8"/>
<path d="M-144 -37.6C-136 -35.5 -130 -33.2 -122.5 -33.2C-115 -33.2 -110 -35.6 -103 -36.6C-110 -29 -134 -27 -144 -37.6Z" fill="#8a8a8a" opacity="0.5"/>
<path d="M-151 -36.4A7.03 37 0 0 0 -151 37L-147.6 37A7.03 37 0 0 1 -147.6 -37.4Z" fill="#000" opacity="0.22"/>
<path d="M-147.6 -37.4A7.03 37 0 0 0 -147.6 37" fill="none" stroke="#e6e6e6" stroke-width="0.5" opacity="0.7"/>
<path d="M-106.5 -36.2A7.03 37 0 0 1 -99.6 0L-96 0A7.03 37 0 0 0 -103 -36.6Z" fill="#fff" opacity="0.28"/>
<ellipse cx="-103" cy="0" rx="7.07" ry="37.2" fill="url(#gFaceDark)"/>
<path d="M-104 -18.5L-67 -18.5A3.52 18.5 0 0 1 -67 18.5L-104 18.5A3.52 18.5 0 0 1 -104 -18.5Z" fill="url(#gSteel2)"/>
<path d="M-94.2 -18.5A3.52 18.5 0 0 1 -94.2 18.5M-90.4 -18.5A3.52 18.5 0 0 1 -90.4 18.5" fill="none" stroke="#2a2a2a" stroke-width="1.1"/>
<path d="M-104 -18.5L-91 -18.5A3.52 18.5 0 0 1 -91 18.5L-104 18.5Z" fill="url(#gShadow)"/>
<ellipse cx="-67" cy="0" rx="3.52" ry="18.5" fill="#262728"/>
<path d="M-68 -16.2L-52.5 -16.2A3.08 16.2 0 0 1 -52.5 16.2L-68 16.2A3.08 16.2 0 0 1 -68 -16.2Z" fill="url(#gSteel2)"/>
<path d="M-67.3 -16.6A3.15 16.6 0 0 1 -67.3 16.6" fill="none" stroke="#242526" stroke-width="1.3"/>
<path d="M-54 -16.2A3.08 16.2 0 0 1 -54 16.2" fill="none" stroke="#3a3a3a" stroke-width="0.8"/>
<path d="M-52.5 -16.2L-49.6 -14.4A2.74 14.4 0 0 1 -49.6 14.4L-52.5 16.2A3.08 16.2 0 0 1 -52.5 -16.2Z" fill="url(#gSteel2)"/>
<ellipse cx="-49.6" cy="0" rx="2.74" ry="14.4" fill="#9a9c9e"/>
<ellipse cx="-49.4" cy="0" rx="2.20" ry="11.6" fill="#2a2b2c"/>
<ellipse cx="-48.9" cy="0" rx="1.33" ry="7" fill="#8f9192"/>
<ellipse cx="-48.5" cy="1" rx="1.2" ry="3.8" fill="#f4f4f4"/>
</g>
<g transform="translate(389.6,344.8) rotate(43.9)">
<ellipse cx="0" cy="0" rx="8" ry="38.2" fill="none" stroke="#0c0c0c" stroke-width="5"/>
<ellipse cx="-0.7" cy="0" rx="8" ry="38.2" fill="none" stroke="#3b3b3b" stroke-width="0.8" opacity="0.7"/>
</g>
<g transform="translate(390,346.5) rotate(42)">
<path d="M44.1 -12.3L60.5 -10.7A2.03 10.7 0 0 1 60.5 10.7L44.1 12.3A2.34 12.3 0 0 1 44.1 -12.3Z" fill="url(#gBrass)"/>
<path d="M44.1 -12.3A2.34 12.3 0 0 0 44.1 12.3" fill="none" stroke="#5e534d" stroke-width="0.8"/>
<ellipse cx="60.5" cy="0" rx="2.03" ry="10.7" fill="#6a5f59"/>
<ellipse cx="60.7" cy="0" rx="1.63" ry="8.6" fill="#dccbbe"/>
<ellipse cx="60.9" cy="0" rx="1.06" ry="5.6" fill="#8d8079"/>
<ellipse cx="61.1" cy="0" rx="0.80" ry="4.2" fill="#f6f3f0"/>
<path d="M43.9 -2.6L58.6 -2.4" stroke="#2a211e" stroke-width="1.3"/>
</g>
<g transform="translate(390,346.5) rotate(42)">
<path d="M95.5 -36L146 -36A6.84 36 0 0 1 146 36L95.5 36A6.84 36 0 0 1 95.5 -36Z" fill="url(#gSteelNut)"/>
<path d="M146 -36L149.5 -34.8A6.61 34.8 0 0 1 149.5 34.8L146 36A6.84 36 0 0 1 146 -36Z" fill="url(#gSteelNut)"/>
<path d="M149.5 -34.8L175 -22.6A4.29 22.6 0 0 1 175 22.6L149.5 34.8A6.61 34.8 0 0 1 149.5 -34.8Z" fill="url(#gCone1)"/>
<path d="M149.5 -34.8A6.61 34.8 0 0 1 156.1 0" fill="none" stroke="#e2e2e2" stroke-width="0.7" opacity="0.6"/>
<path d="M156.1 0A6.61 34.8 0 0 1 149.5 34.8" fill="none" stroke="#6a6a6a" stroke-width="0.6" opacity="0.5"/>
<path d="M175 -22.6L177.4 -20.6A3.91 20.6 0 0 1 177.4 20.6L175 22.6A4.29 22.6 0 0 1 175 -22.6Z" fill="#4a4b4c"/>
<ellipse cx="177.4" cy="0" rx="3.91" ry="20.6" fill="#3d3e3f"/>
<ellipse cx="178" cy="0" rx="0.99" ry="5.2" fill="#1d1d1e"/>
<ellipse cx="178.3" cy="0.4" rx="0.9" ry="2.3" fill="#e9e9e9"/>
</g>
<g transform="translate(365,181.55) rotate(-46.9)">
<g transform="translate(0,1.3)">
<path d="M-21.5 -14.2L-11.5 -14.2A2.27 14.2 0 0 1 -11.5 14.2L-21.5 14.2A2.27 14.2 0 0 1 -21.5 -14.2Z" fill="url(#g09)"/>
<path d="M-19.6 -14.2A2.27 14.2 0 0 0 -19.6 14.2" fill="none" stroke="#262626" stroke-width="1"/>
<path d="M-13 -14.2A2.27 14.2 0 0 0 -13 14.2" fill="none" stroke="#2c2c2c" stroke-width="0.9"/>
<path d="M-12 -15.4L-5 -15.4A2.46 15.4 0 0 1 -5 15.4L-12 15.4A2.46 15.4 0 0 1 -12 -15.4Z" fill="url(#g09)"/>
<path d="M-12 -15.4A2.46 15.4 0 0 0 -12 15.4" fill="none" stroke="#2e2e2e" stroke-width="0.9"/>
</g>
<path d="M-5.5 -17.8L0.5 -17.8A2.85 17.8 0 0 1 0.5 17.8L-5.5 17.8A2.85 17.8 0 0 1 -5.5 -17.8Z" fill="url(#g09)"/>
<path d="M-5.5 -17.8A2.85 17.8 0 0 0 -5.5 17.8" fill="none" stroke="#2e2e2e" stroke-width="0.9"/>
<path d="M0 -20.1L52.3 -20.1A3.22 20.1 0 0 1 52.3 20.1L0 20.1A3.22 20.1 0 0 1 0 -20.1Z" fill="url(#g09)"/>
<path d="M0 -20.1A3.22 20.1 0 0 0 0 20.1" fill="none" stroke="#333333" stroke-width="1" opacity="0.85"/>
<path d="M50.5 -20.1A3.22 20.1 0 0 1 50.5 20.1" fill="none" stroke="#3c3c3c" stroke-width="0.6" opacity="0.6"/>
</g>
<g transform="translate(422.4,121.4) rotate(-47.3)"><ellipse cx="0" cy="0" rx="3.1" ry="16" fill="#0c0c0c"/><line x1="0" y1="-12" x2="0" y2="12" stroke="#0c0c0c" stroke-width="5.6" stroke-linecap="round"/><ellipse cx="-0.6" cy="0" rx="0.6" ry="10" fill="#353535"/></g>
<g transform="translate(334.2,218.0) rotate(-47.3)"><ellipse cx="0" cy="0" rx="3.1" ry="16" fill="#0c0c0c"/><line x1="0" y1="-12" x2="0" y2="12" stroke="#0c0c0c" stroke-width="5.6" stroke-linecap="round"/><ellipse cx="-0.6" cy="0" rx="0.6" ry="10" fill="#353535"/></g>
<g stroke="#666666" stroke-width="0.95" fill="none">
<path d="M203 45L142.2 107.1"/>
<path d="M328 45L189.4 171.3"/>
<path d="M429 45.6L345 222.6"/>
<path d="M429 45.6L426.2 117.6"/>
<path d="M553.6 45L395.3 160.3"/>
<path d="M552.6 207.6L416.4 314.9"/>
<path d="M552 290.6L439.3 376.3"/>
<path d="M552 392.6L497.2 428.6"/>
<path d="M205 362L278.6 298"/>
</g>
<g fill="#1a1a1a">
<circle cx="142.2" cy="107.1" r="1"/>
<circle cx="189.4" cy="171.3" r="1"/>
<circle cx="395.3" cy="160.3" r="1"/>
<circle cx="439.3" cy="376.3" r="1"/>
<circle cx="497.2" cy="428.6" r="1"/>
</g>
</g>
<g font-size="11.2" fill="#262626">
<text x="204.4" y="49.4" textLength="98.2" lengthAdjust="spacingAndGlyphs">Dialine style orifice</text>
<text x="204.4" y="60" textLength="68" lengthAdjust="spacingAndGlyphs" font-weight="700">Not included</text>
<text x="331" y="49.4" textLength="29" lengthAdjust="spacingAndGlyphs">11496</text>
<text x="330" y="60" textLength="47.6" lengthAdjust="spacingAndGlyphs">[1-12747]</text>
<text x="431" y="49.4" textLength="29" lengthAdjust="spacingAndGlyphs">13212</text>
<text x="430.6" y="60" textLength="69.4" lengthAdjust="spacingAndGlyphs">[1-11679-012]</text>
<text x="556.6" y="49.4" textLength="29.4" lengthAdjust="spacingAndGlyphs">13209</text>
<text x="556" y="60" textLength="47" lengthAdjust="spacingAndGlyphs">[1-12752]</text>
<text x="555" y="211.4" textLength="27.4" lengthAdjust="spacingAndGlyphs">13211</text>
<text x="554.6" y="222.6" textLength="69" lengthAdjust="spacingAndGlyphs">[1-11679-216]</text>
<text x="555" y="295" textLength="29.4" lengthAdjust="spacingAndGlyphs">10563</text>
<text x="554.6" y="306" textLength="49.8" lengthAdjust="spacingAndGlyphs">[ 1-11357]</text>
<text x="555" y="396.6" textLength="29.4" lengthAdjust="spacingAndGlyphs">13208</text>
<text x="554.6" y="407.6" textLength="49.8" lengthAdjust="spacingAndGlyphs">[ 1-12751]</text>
<text x="156" y="357" textLength="28.4" lengthAdjust="spacingAndGlyphs">13207</text>
<text x="155.6" y="368" textLength="46.8" lengthAdjust="spacingAndGlyphs">[1-12750]</text>
</g>
</svg>
</body></html>
